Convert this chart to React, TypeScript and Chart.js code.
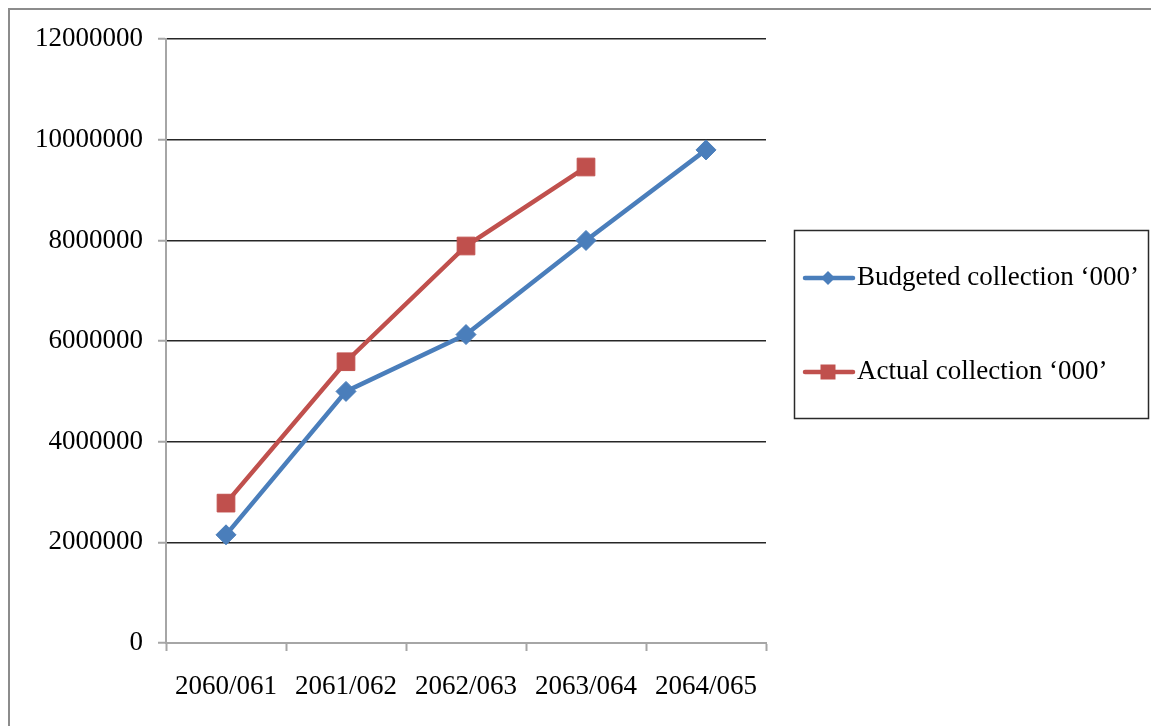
import React, { useEffect, useRef } from "react";
import { Chart, registerables } from "chart.js";

Chart.register(...registerables);

const categories = ["2060/061", "2061/062", "2062/063", "2063/064", "2064/065"];
const budgeted = [2150000, 5000000, 6130000, 8000000, 9800000];
const actual: (number | null)[] = [2780000, 5590000, 7890000, 9460000, null];
const seriesNames = ["Budgeted collection \u2018000\u2019", "Actual collection \u2018000\u2019"];
const yTicks = [0, 2000000, 4000000, 6000000, 8000000, 10000000, 12000000];

const BLUE = "#4a7ebb";
const RED = "#c0504d";
const FONT = "'Liberation Serif', 'Times New Roman', serif";

if (typeof document !== "undefined") {
  document.documentElement.style.overflow = "hidden";
  document.body.style.overflow = "hidden";
}

const outerFrame = {
  id: "outerFrame",
  beforeDraw(chart: any) {
    const ctx = chart.ctx as CanvasRenderingContext2D;
    ctx.save();
    ctx.fillStyle = "#fff";
    ctx.fillRect(0, 0, chart.width, chart.height);
    ctx.fillStyle = "#8c8c8c";
    ctx.fillRect(0, 0, chart.width, 2);
    ctx.fillRect(0, 0, 2, chart.height);
    ctx.restore();
  },
};

const boxLegend = {
  id: "boxLegend",
  afterDraw(chart: any) {
    const ctx = chart.ctx as CanvasRenderingContext2D;
    ctx.save();
    const bx = 786.5, by = 222.5, bw = 354, bh = 188;
    ctx.strokeStyle = "#2a2a2a";
    ctx.lineWidth = 1.5;
    ctx.strokeRect(bx, by, bw, bh);
    const items = [
      { y: 270, color: BLUE, shape: "diamond", label: seriesNames[0] },
      { y: 364, color: RED, shape: "square", label: seriesNames[1] },
    ];
    items.forEach((it) => {
      ctx.strokeStyle = it.color;
      ctx.lineWidth = 4.5;
      ctx.lineCap = "round";
      ctx.beginPath();
      ctx.moveTo(797, it.y);
      ctx.lineTo(845, it.y);
      ctx.stroke();
      ctx.fillStyle = it.color;
      const cx = 820;
      ctx.beginPath();
      if (it.shape === "diamond") {
        const r = 7;
        ctx.moveTo(cx, it.y - r);
        ctx.lineTo(cx + r, it.y);
        ctx.lineTo(cx, it.y + r);
        ctx.lineTo(cx - r, it.y);
        ctx.closePath();
      } else {
        ctx.rect(cx - 7.5, it.y - 7.5, 15, 15);
      }
      ctx.fill();
      ctx.fillStyle = "#000";
      ctx.font = `27px ${FONT}`;
      ctx.textAlign = "left";
      ctx.textBaseline = "middle";
      ctx.fillText(it.label, 849, it.y);
    });
    ctx.restore();
  },
};

export default function App() {
  const ref = useRef<HTMLCanvasElement | null>(null);
  useEffect(() => {
    if (!ref.current) return;
    const chart = new Chart(ref.current, {
      type: "line",
      data: {
        labels: categories,
        datasets: [
          {
            label: seriesNames[0],
            data: budgeted,
            borderColor: BLUE,
            backgroundColor: BLUE,
            borderWidth: 4.5,
            pointStyle: "rectRot",
            pointRadius: 10,
            pointBorderWidth: 1,
            pointBackgroundColor: BLUE,
            pointBorderColor: BLUE,
            tension: 0,
          },
          {
            label: seriesNames[1],
            data: actual,
            borderColor: RED,
            backgroundColor: RED,
            borderWidth: 4.5,
            pointStyle: "rect",
            pointRadius: 12.5,
            pointBorderWidth: 1,
            pointBackgroundColor: RED,
            pointBorderColor: RED,
            tension: 0,
            spanGaps: false,
          },
        ],
      },
      options: {
        responsive: false,
        animation: false,
        layout: { padding: { top: 30, right: 385, left: 0, bottom: 0 } },
        plugins: {
          legend: { display: false },
          tooltip: { enabled: false },
        },
        scales: {
          x: {
            type: "category",
            offset: true,
            grid: {
              offset: true,
              drawOnChartArea: false,
              drawTicks: true,
              tickLength: 8,
              tickColor: "#a6a6a6",
              tickWidth: 2,
            },
            border: { display: true, color: "#a6a6a6", width: 2 },
            ticks: {
              color: "#000",
              font: { family: FONT, size: 27 },
              padding: 20,
              maxRotation: 0,
              autoSkip: false,
            },
            afterFit(scale: any) {
              scale.height = 83;
            },
          },
          y: {
            min: 0,
            max: 12000000,
            afterBuildTicks(scale: any) {
              scale.ticks = yTicks.map((v) => ({ value: v }));
            },
            grid: {
              color: "#262626",
              lineWidth: 1.5,
              tickLength: 8,
              tickColor: "#a6a6a6",
              tickWidth: 2,
            },
            border: { display: true, color: "#a6a6a6", width: 2 },
            ticks: {
              color: "#000",
              font: { family: FONT, size: 27 },
              padding: 15,
              callback: (v: any) => String(v),
            },
            afterFit(scale: any) {
              scale.width = 158;
            },
          },
        },
      },
      plugins: [outerFrame, boxLegend],
    });
    return () => chart.destroy();
  }, []);
  return (
    <canvas
      ref={ref}
      width={1143}
      height={718}
      style={{ display: "block", position: "fixed", left: 8, top: 8 }}
    />
  );
}
